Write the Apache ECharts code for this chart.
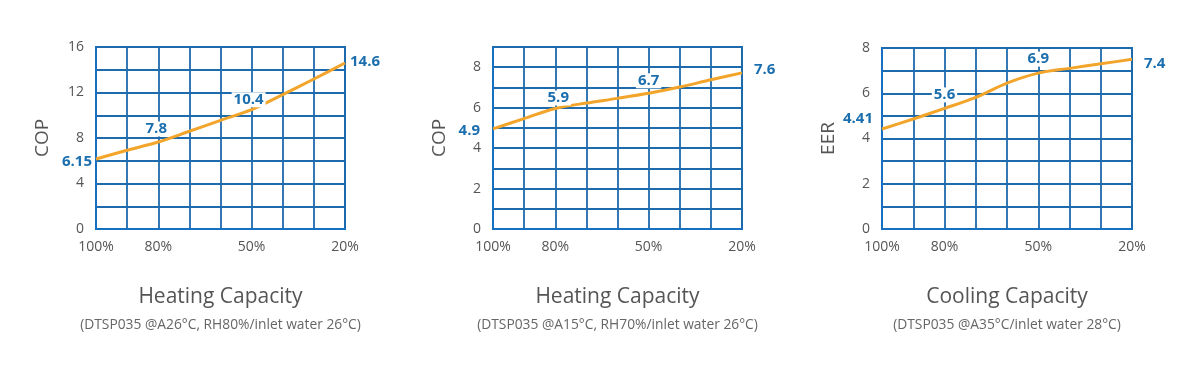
<!DOCTYPE html>
<html>
<head>
<meta charset="utf-8">
<script src="https://cdn.jsdelivr.net/npm/echarts@6/dist/echarts.min.js"></script>
<style>
html,body{margin:0;padding:0;background:#fff;}
#c{width:1193px;height:373px;}
</style>
</head>
<body>
<div id="c"></div>
<script>
// ---- data ----
const xPercent = [100, 90, 80, 70, 60, 50, 40, 30, 20];
const xTickLabels = [100, 80, 50, 20];

const copHeatA26 = [6.15, 6.92, 7.65, 8.59, 9.55, 10.49, 11.81, 13.19, 14.59];
const copHeatA15 = [4.95, 5.46, 5.96, 6.23, 6.46, 6.71, 7.02, 7.38, 7.72];
const eerCoolA35 = [4.42, 4.86, 5.33, 5.82, 6.45, 6.89, 7.10, 7.30, 7.50];

const calloutX = [100, 80, 50, 20];
const calloutHeatA26 = ['6.15', '7.8', '10.4', '14.6'];
const calloutHeatA15 = ['4.9', '5.9', '6.7', '7.6'];
const calloutCoolA35 = ['4.41', '5.6', '6.9', '7.4'];

const yNames = ['COP', 'COP', 'EER'];
const yMax = [16, 9, 8];
const yInterval = [2, 1, 1];
const yLabelStep = [4, 2, 2];
const titles = ['Heating Capacity', 'Heating Capacity', 'Cooling Capacity'];
const subtitles = [
  '(DTSP035 @A26\u00B0C, RH80%/inlet water 26\u00B0C)',
  '(DTSP035 @A15\u00B0C, RH70%/inlet water 26\u00B0C)',
  '(DTSP035 @A35\u00B0C/inlet water 28\u00B0C)'
];

// ---- styling / layout ----
const FONT = '"Open Sans", "Noto Sans", sans-serif';
const GRID_BLUE = '#1d6aac';
const BORDER_BLUE = '#1570c2';
const LABEL_BLUE = '#1b6fae';
const ORANGE = '#f2a52a';
const grids = [
  {left: 96, top: 47, width: 249, height: 182},
  {left: 493, top: 47, width: 249, height: 182},
  {left: 882, top: 48, width: 250, height: 181}
];
// label placement (pixel shift from the point + alignment) per chart, per callout
const calloutPlace = [
  [{d:[-2, 3], a:'right'}, {d:[-2, -13], a:'center'}, {d:[-3, -10], a:'center'}, {d:[3, -1], a:'left'}],
  [{d:[-11, 2], a:'right'}, {d:[3, -10.5], a:'center'}, {d:[0, -12.5], a:'center'}, {d:[10, -3], a:'left'}],
  [{d:[-7, -10], a:'right'}, {d:[0, -13.5], a:'center'}, {d:[0, -14], a:'center'}, {d:[10, 4], a:'left'}]
];
const seriesValues = [copHeatA26, copHeatA15, eerCoolA35];
const callouts = [calloutHeatA26, calloutHeatA15, calloutCoolA35];

const chart = echarts.init(document.getElementById('c'), null, {renderer: 'canvas'});

const option = {
  animation: false,
  backgroundColor: '#fff',
  textStyle: {fontFamily: FONT},
  grid: grids.map(g => Object.assign({show: true, borderColor: BORDER_BLUE, borderWidth: 2, backgroundColor: 'transparent'}, g)),
  xAxis: grids.map((g, i) => ({
    type: 'value', gridIndex: i, min: 20, max: 100, interval: 10, inverse: true,
    axisLine: {show: true, lineStyle: {color: BORDER_BLUE, width: 2}},
    axisTick: {show: false},
    splitLine: {show: true, lineStyle: {color: GRID_BLUE, width: 1.8}},
    axisLabel: {
      color: '#555', fontSize: 14, fontFamily: FONT, margin: 11,
      formatter: v => xTickLabels.indexOf(v) >= 0 ? v + '%' : ''
    }
  })),
  yAxis: grids.map((g, i) => ({
    type: 'value', gridIndex: i, min: 0, max: yMax[i], interval: yInterval[i],
    name: yNames[i], nameLocation: 'middle', nameGap: 44, nameRotate: 90,
    nameTextStyle: {color: '#555', fontSize: 19, fontFamily: FONT},
    axisLine: {show: true, lineStyle: {color: BORDER_BLUE, width: 2}},
    axisTick: {show: false},
    splitLine: {show: true, lineStyle: {color: GRID_BLUE, width: 1.8}},
    axisLabel: {
      color: '#555', fontSize: 14, fontFamily: FONT, margin: 12, showMaxLabel: true,
      formatter: v => (v % yLabelStep[i] === 0) ? String(v) : ''
    }
  })),
  series: seriesValues.map((vals, i) => ({
    type: 'line', xAxisIndex: i, yAxisIndex: i, smooth: 0.3,
    symbol: 'circle', symbolSize: 1, showSymbol: true, showAllSymbol: true, z: 5,
    itemStyle: {color: 'rgba(0,0,0,0)'},
    lineStyle: {color: ORANGE, width: 3},
    labelLayout: {hideOverlap: false},
    data: xPercent.map((x, j) => {
      const item = {value: [x, vals[j]]};
      const k = calloutX.indexOf(x);
      if (k >= 0) {
        const p = calloutPlace[i][k];
        item.label = {
          show: true, formatter: callouts[i][k],
          position: [p.d[0] + 0.5, p.d[1] + 0.5], align: p.a, verticalAlign: 'middle',
          color: LABEL_BLUE, fontSize: 15, fontWeight: 'bold', fontFamily: FONT,
          backgroundColor: '#fff', padding: [0, 2]
        };
      }
      return item;
    })
  })),
  graphic: grids.flatMap((g, i) => {
    const cx = g.left + g.width / 2;
    return [
      {type: 'text', x: cx, y: 297, style: {text: titles[i], fill: '#555', font: '21px ' + FONT, textAlign: 'center', textVerticalAlign: 'middle'}},
      {type: 'text', x: cx, y: 325, style: {text: subtitles[i], fill: '#666', font: '13.8px ' + FONT, textAlign: 'center', textVerticalAlign: 'middle'}}
    ];
  })
};
chart.setOption(option);
</script>
</body>
</html>
